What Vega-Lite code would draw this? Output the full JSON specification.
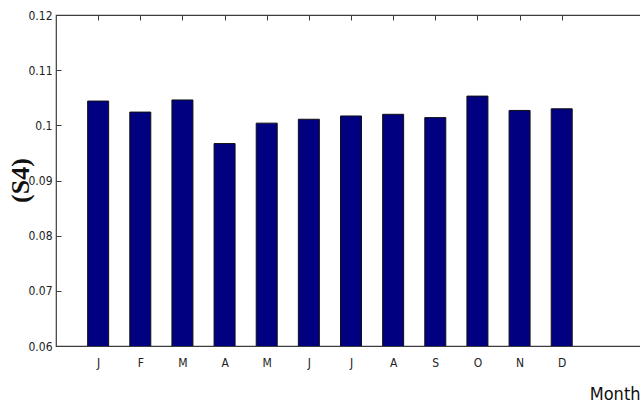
{
  "$schema": "https://vega.github.io/schema/vega-lite/v6.json",
  "autosize": "none",
  "width": 590,
  "height": 331,
  "padding": {"left": 56, "top": 15, "right": 0, "bottom": 61},
  "background": "white",
  "config": {
    "view": {"stroke": "#3c3c3c", "strokeWidth": 1.2},
    "axis": {
      "grid": false,
      "domain": false,
      "tickColor": "#3c3c3c",
      "labelFont": "Liberation Sans Narrow, DejaVu Sans Condensed, Liberation Sans",
      "labelFontSize": 12,
      "labelColor": "#222222"
    }
  },
  "data": {
    "values": [
      {"idx": 1, "month": "J", "s4": 0.1044},
      {"idx": 2, "month": "F", "s4": 0.1024},
      {"idx": 3, "month": "M", "s4": 0.1046},
      {"idx": 4, "month": "A", "s4": 0.0967},
      {"idx": 5, "month": "M", "s4": 0.1004},
      {"idx": 6, "month": "J", "s4": 0.1011},
      {"idx": 7, "month": "J", "s4": 0.1017},
      {"idx": 8, "month": "A", "s4": 0.1020},
      {"idx": 9, "month": "S", "s4": 0.1014},
      {"idx": 10, "month": "O", "s4": 0.1053},
      {"idx": 11, "month": "N", "s4": 0.1027},
      {"idx": 12, "month": "D", "s4": 0.1030}
    ]
  },
  "layer": [
    {
      "mark": {"type": "bar", "width": 21, "fill": "#000080", "stroke": "#111111", "strokeWidth": 1, "clip": true},
      "encoding": {
        "x": {
          "field": "idx", "type": "quantitative",
          "scale": {"domain": [0, 14], "nice": false, "zero": false, "padding": 0},
          "axis": {
            "orient": "bottom",
            "values": [1,2,3,4,5,6,7,8,9,10,11,12],
            "labelExpr": "['J','F','M','A','M','J','J','A','S','O','N','D'][datum.value - 1]",
            "tickSize": 0,
            "labelPadding": 11,
            "title": "Month",
            "titleFont": "Liberation Sans Narrow, DejaVu Sans Condensed, Liberation Sans",
            "titleFontSize": 18,
            "titleFontWeight": "normal",
            "titleColor": "#111111",
            "titleX": 584,
            "titleY": 53,
            "titleAlign": "right",
            "titleBaseline": "alphabetic"
          }
        },
        "y": {
          "field": "s4", "type": "quantitative",
          "scale": {"domain": [0.06, 0.12], "nice": false, "zero": false},
          "axis": {
            "orient": "left",
            "values": [0.06, 0.07, 0.08, 0.09, 0.1, 0.11, 0.12],
            "labelExpr": "format(datum.value, '.2~f')",
            "tickSize": -5,
            "labelPadding": 9,
            "title": "(S4)",
            "titleFont": "Liberation Serif, DejaVu Serif",
            "titleFontSize": 26,
            "titleFontWeight": "bold",
            "titleColor": "#111111",
            "titleX": -36,
            "titleY": 165,
            "titleAlign": "center",
            "titleBaseline": "middle",
            "titleAngle": -90
          }
        }
      }
    },
    {
      "mark": {"type": "bar", "width": 21, "opacity": 0},
      "encoding": {
        "x": {
          "field": "idx", "type": "quantitative",
          "axis": {
            "orient": "top",
            "values": [1,2,3,4,5,6,7,8,9,10,11,12],
            "labels": false,
            "tickSize": -5,
            "title": null
          }
        },
        "y": {
          "field": "s4", "type": "quantitative",
          "axis": {
            "orient": "right",
            "values": [0.06, 0.07, 0.08, 0.09, 0.1, 0.11, 0.12],
            "labels": false,
            "tickSize": -6,
            "title": null
          }
        }
      }
    }
  ],
  "resolve": {"axis": {"x": "independent", "y": "independent"}}
}
